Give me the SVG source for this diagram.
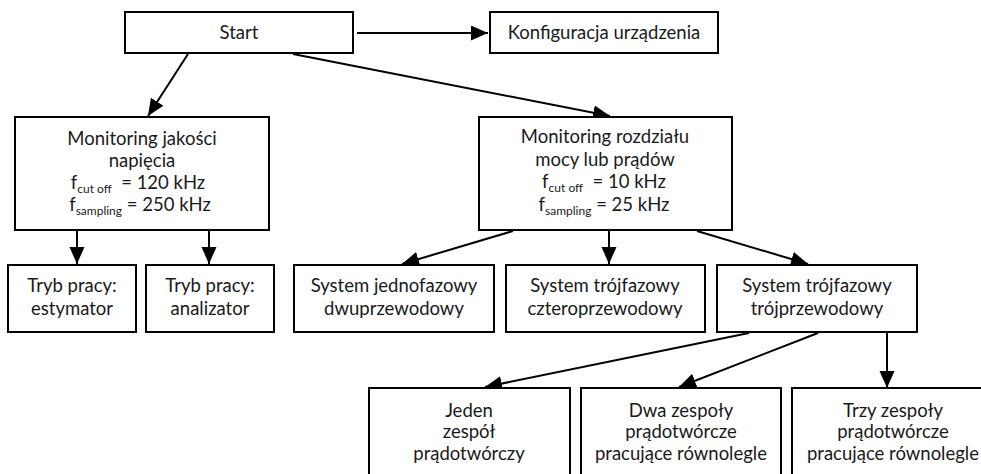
<svg xmlns="http://www.w3.org/2000/svg" width="981" height="474" viewBox="0 0 981 474">
  <style>
    .box { fill: #ffffff; stroke: #000000; stroke-width: 2; }
    .lbl { font-family: "Lato", "Open Sans", sans-serif; font-size: 18.5px; fill: #1a1a1a; text-anchor: middle; }
    .sub { font-size: 12px; }
    .edge { stroke: #000000; stroke-width: 2; fill: none; marker-end: url(#arrow); }
  </style>
  <defs>
    <marker id="arrow" markerUnits="userSpaceOnUse" markerWidth="18" markerHeight="16" refX="17" refY="7.5" orient="auto">
      <path d="M0,0 L17,7.5 L0,15 z" fill="#000000"/>
    </marker>
  </defs>

  <g id="connectors">
    <line class="edge" x1="357" y1="33" x2="488" y2="33"/>
    <line class="edge" x1="188" y1="54" x2="148" y2="116"/>
    <line class="edge" x1="293" y1="54" x2="610" y2="116"/>
    <line class="edge" x1="77" y1="231" x2="77" y2="264"/>
    <line class="edge" x1="209" y1="231" x2="209" y2="264"/>
    <line class="edge" x1="513" y1="231" x2="402" y2="264"/>
    <line class="edge" x1="609" y1="231" x2="609" y2="264"/>
    <line class="edge" x1="697" y1="231" x2="808" y2="264"/>
    <line class="edge" x1="749" y1="333" x2="485" y2="387"/>
    <line class="edge" x1="818" y1="333" x2="679" y2="387"/>
    <line class="edge" x1="887" y1="333" x2="887" y2="388"/>
  </g>

  <g id="start">
    <rect class="box" x="125" y="12" width="228" height="41"/>
    <text class="lbl" x="239" y="39">Start</text>
  </g>

  <g id="konfiguracja">
    <rect class="box" x="490" y="12" width="228" height="41"/>
    <text class="lbl" x="604" y="39">Konfiguracja urządzenia</text>
  </g>

  <g id="monitoring-jakosci">
    <rect class="box" x="15" y="117" width="254" height="113"/>
    <text class="lbl" x="142" y="145">Monitoring jakości</text>
    <text class="lbl" x="142" y="167">napięcia</text>
    <text class="lbl" x="138" y="189">f<tspan class="sub" dy="4">cut off</tspan><tspan dy="-4" xml:space="preserve">  = 120 kHz</tspan></text>
    <text class="lbl" x="140" y="211">f<tspan class="sub" dy="4">sampling</tspan><tspan dy="-4"> = 250 kHz</tspan></text>
  </g>

  <g id="monitoring-rozdzialu">
    <rect class="box" x="479" y="117" width="253" height="113"/>
    <text class="lbl" x="605" y="143">Monitoring rozdziału</text>
    <text class="lbl" x="605" y="166">mocy lub prądów</text>
    <text class="lbl" x="604" y="188">f<tspan class="sub" dy="4">cut off</tspan><tspan dy="-4" xml:space="preserve">  = 10 kHz</tspan></text>
    <text class="lbl" x="604" y="211">f<tspan class="sub" dy="4">sampling</tspan><tspan dy="-4"> = 25 kHz</tspan></text>
  </g>

  <g id="tryb-estymator">
    <rect class="box" x="8" y="265" width="128" height="67"/>
    <text class="lbl" x="72" y="292">Tryb pracy:</text>
    <text class="lbl" x="72" y="315">estymator</text>
  </g>

  <g id="tryb-analizator">
    <rect class="box" x="146" y="265" width="128" height="67"/>
    <text class="lbl" x="210" y="292">Tryb pracy:</text>
    <text class="lbl" x="210" y="315">analizator</text>
  </g>

  <g id="system-jednofazowy">
    <rect class="box" x="294" y="265" width="200" height="67"/>
    <text class="lbl" x="394" y="292">System jednofazowy</text>
    <text class="lbl" x="394" y="315">dwuprzewodowy</text>
  </g>

  <g id="system-czteroprzewodowy">
    <rect class="box" x="506" y="265" width="199" height="67"/>
    <text class="lbl" x="605" y="292">System trójfazowy</text>
    <text class="lbl" x="605" y="315">czteroprzewodowy</text>
  </g>

  <g id="system-trojprzewodowy">
    <rect class="box" x="717" y="265" width="200" height="67"/>
    <text class="lbl" x="817" y="292">System trójfazowy</text>
    <text class="lbl" x="817" y="315">trójprzewodowy</text>
  </g>

  <g id="jeden-zespol">
    <rect class="box" x="369" y="388" width="201" height="95"/>
    <text class="lbl" x="469" y="417">Jeden</text>
    <text class="lbl" x="469" y="438">zespół</text>
    <text class="lbl" x="469" y="460">prądotwórczy</text>
  </g>

  <g id="dwa-zespoly">
    <rect class="box" x="581" y="388" width="200" height="95"/>
    <text class="lbl" x="681" y="417">Dwa zespoły</text>
    <text class="lbl" x="681" y="438">prądotwórcze</text>
    <text class="lbl" x="681" y="460">pracujące równolegle</text>
  </g>

  <g id="trzy-zespoly">
    <rect class="box" x="792" y="388" width="202" height="95"/>
    <text class="lbl" x="893" y="417">Trzy zespoły</text>
    <text class="lbl" x="893" y="438">prądotwórcze</text>
    <text class="lbl" x="893" y="460">pracujące równolegle</text>
  </g>
</svg>
